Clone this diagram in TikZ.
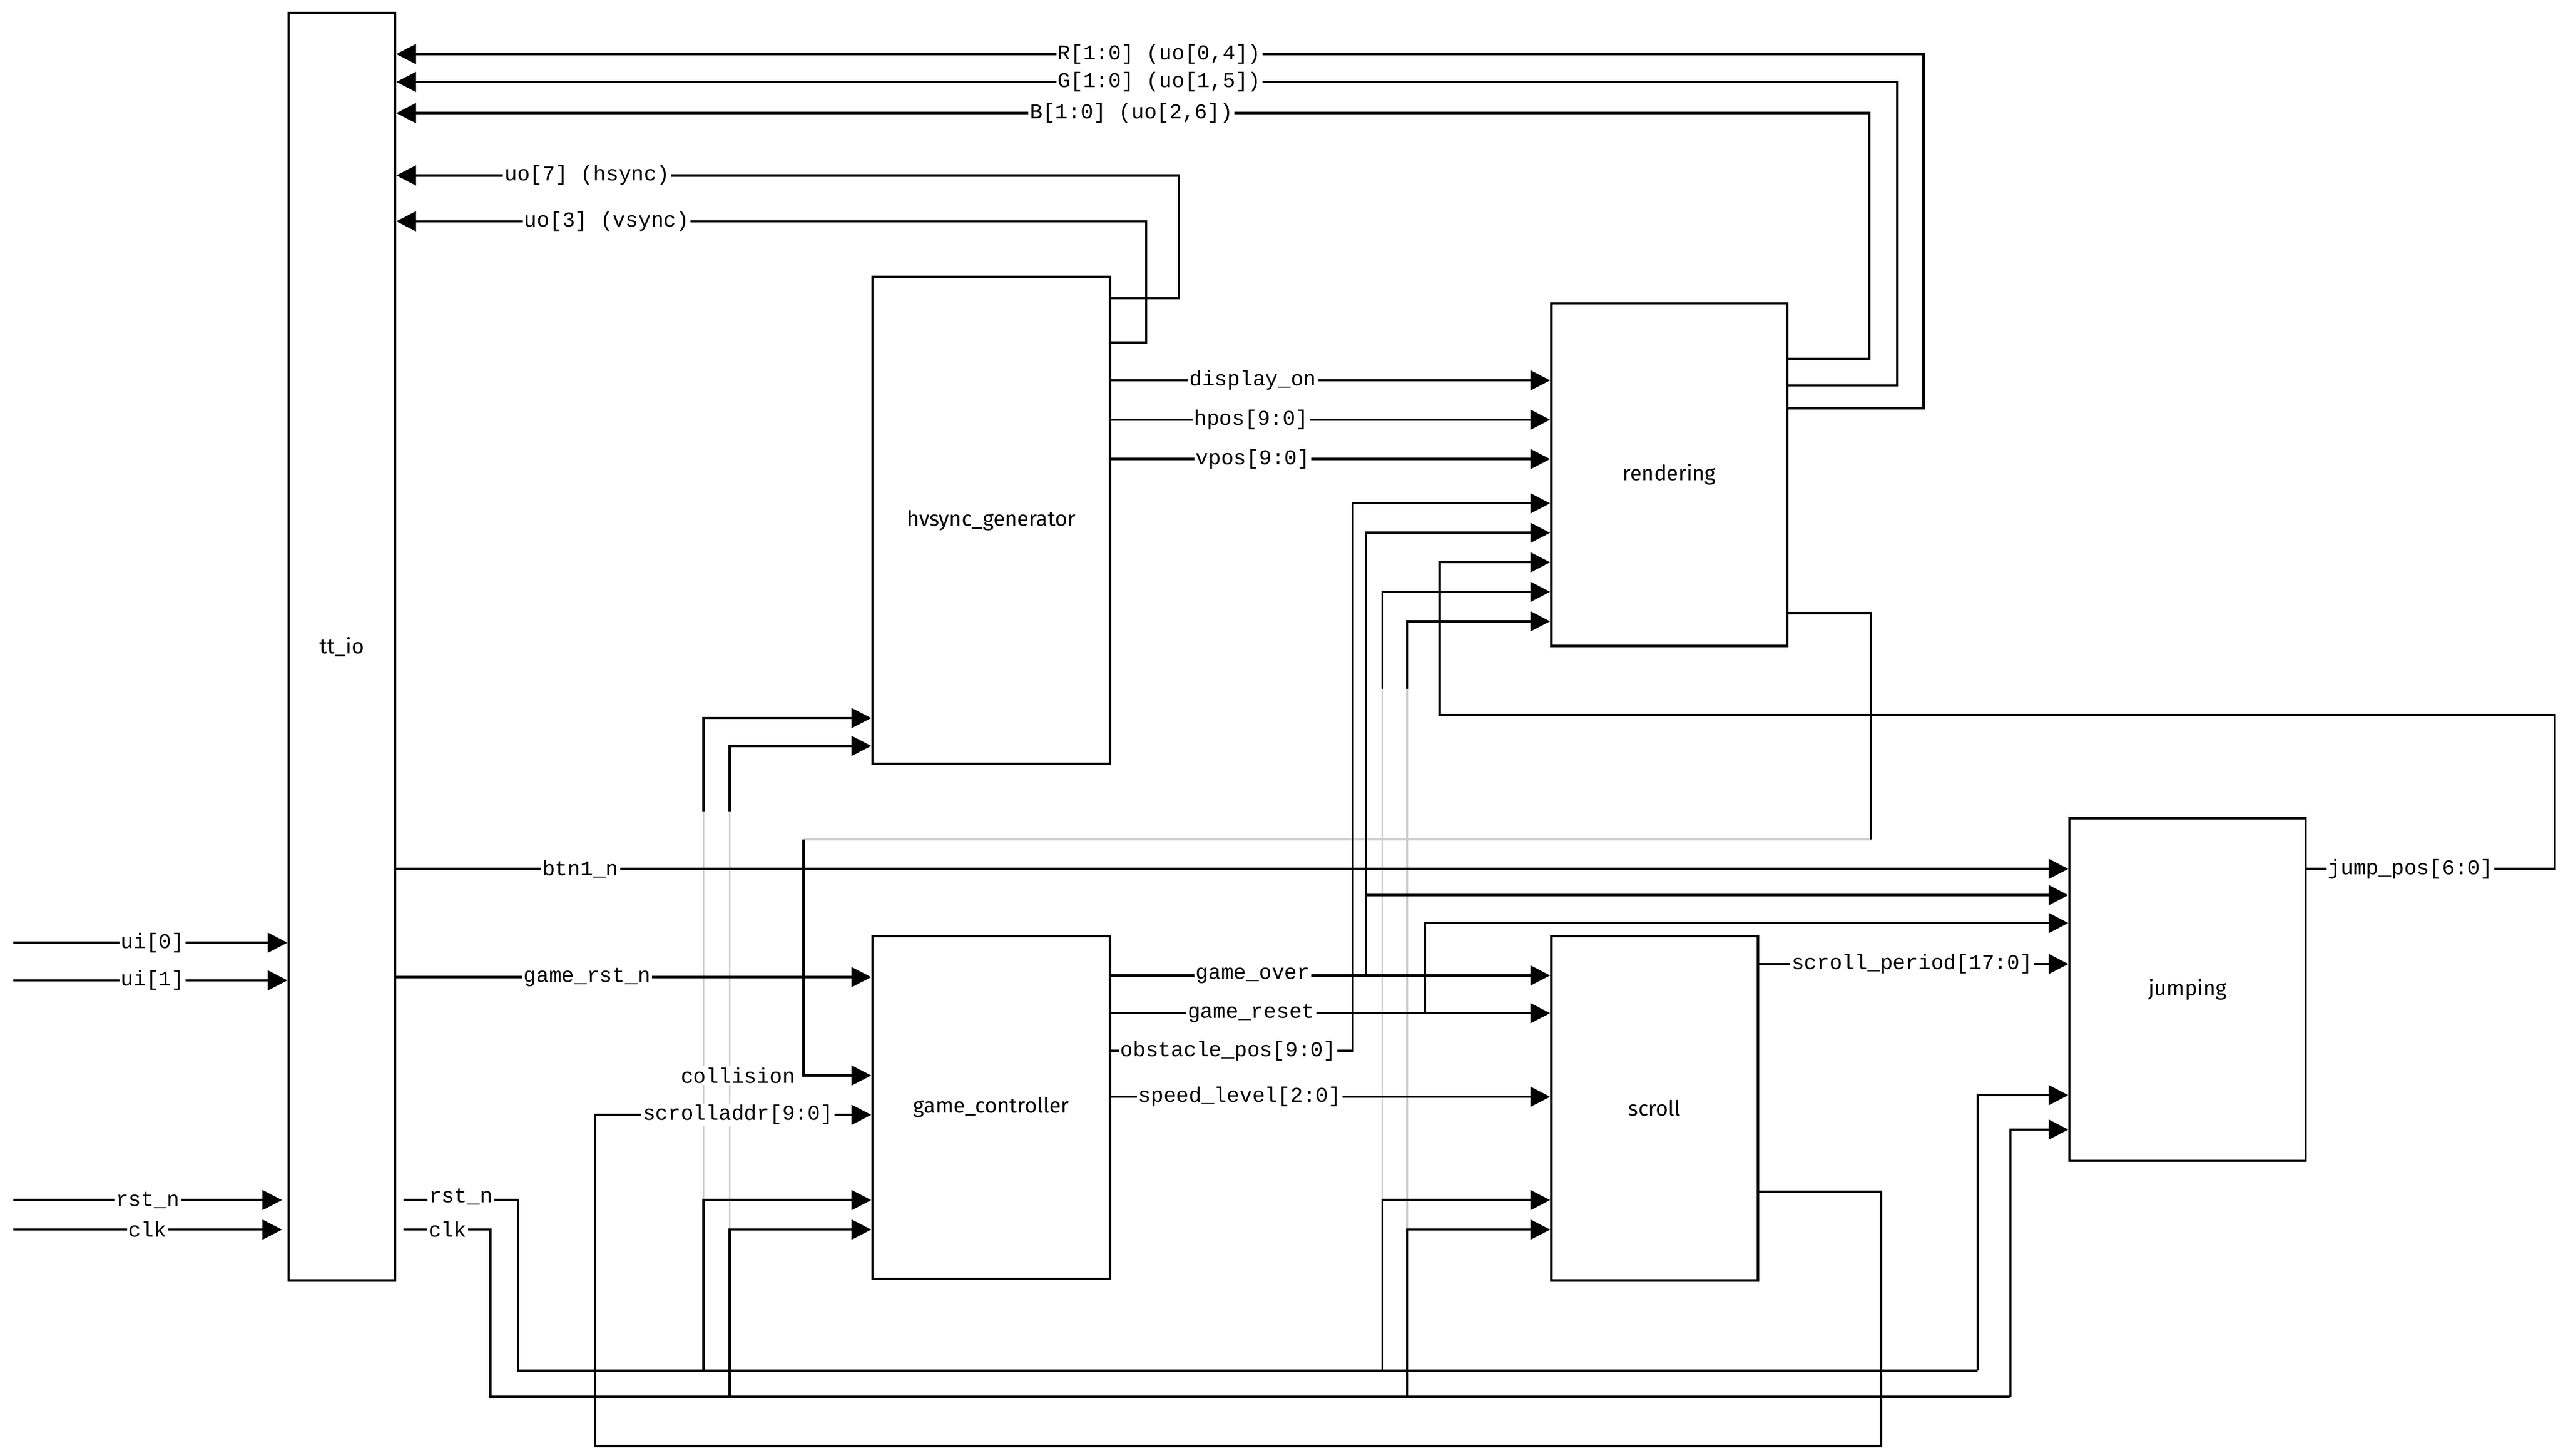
\documentclass[tikz,border=0pt]{standalone}
\usepackage{fontspec}
\setmainfont{Liberation Mono}
\newfontfamily\blockfont{Fira Sans}
\usetikzlibrary{arrows.meta}
\tikzset{
  blk/.style={draw, line width=1.2pt, inner sep=0pt, font=\blockfont\fontsize{11}{13}\selectfont},
  wire/.style={line width=1.2pt},
  sig/.style={wire, -{Triangle[length=3.6mm,width=3.6mm]}},
  faint/.style={line width=1pt, gray!40},
  lbl/.style={fill=white, inner sep=0.8pt, font=\fontsize{11}{13}\selectfont}
}
\begin{document}
\begin{tikzpicture}[x=0.3mm,y=-0.3mm]
\useasboundingbox (0,0) rectangle (1563,888);
% blocks
\node[blk, minimum width=19.5mm, minimum height=231.9mm] (io) at (208.5,394.5) {tt\_io};
\node[blk, minimum width=43.5mm, minimum height=89.1mm] (hv) at (604.5,317.5) {hvsync\_generator};
\node[blk, minimum width=43.2mm, minimum height=62.7mm] (ren) at (1018,289.5) {rendering};
\node[blk, minimum width=43.5mm, minimum height=62.7mm] (gc) at (604.5,675.5) {game\_controller};
\node[blk, minimum width=37.8mm, minimum height=63mm] (scr) at (1009,676) {scroll};
\node[blk, minimum width=43.2mm, minimum height=62.7mm] (jmp) at (1334,603.5) {jumping};

% faint crossings
\draw[faint] (429,495) -- (429,732);
\draw[faint] (445,495) -- (445,750);
\draw[faint] (843,420) -- (843,732);
\draw[faint] (858,420) -- (858,750);
\draw[faint] (1141,512) -- (490,512);

% colour outputs
\draw[sig] (ren.east |- 0,249) -- (1173,249) -- (1173,33) -- (io.east |- 0,33);
\draw[sig] (ren.east |- 0,235) -- (1157,235) -- (1157,50) -- (io.east |- 0,50);
\draw[sig] (ren.east |- 0,219) -- (1140,219) -- (1140,69) -- (io.east |- 0,69);
\node[lbl] at (707,33) {R[1:0] (uo[0,4])};
\node[lbl] at (707,50) {G[1:0] (uo[1,5])};
\node[lbl] at (690,69) {B[1:0] (uo[2,6])};

% sync
\draw[sig] (hv.east |- 0,182) -- (719,182) -- (719,107) -- (io.east |- 0,107);
\draw[sig] (hv.east |- 0,209) -- (699,209) -- (699,135) -- (io.east |- 0,135);
\node[lbl] at (358,107) {uo[7] (hsync)};
\node[lbl] at (370,135) {uo[3] (vsync)};

% hvsync to rendering
\draw[sig] (hv.east |- 0,232) -- (ren.west |- 0,232);
\draw[sig] (hv.east |- 0,256) -- (ren.west |- 0,256);
\draw[sig] (hv.east |- 0,280) -- (ren.west |- 0,280);
\node[lbl] at (764,232) {display\_on};
\node[lbl] at (763,256) {hpos[9:0]};
\node[lbl] at (764,280) {vpos[9:0]};

% top-level inputs
\coordinate (ui0) at (8,575);
\coordinate (ui1) at (8,598);
\coordinate (rin) at (8,732);
\coordinate (cin) at (8,750);
\draw[sig] (ui0) -- (io.west |- ui0);
\draw[sig] (ui1) -- (io.west |- ui1);
\draw[sig] (rin) -- (172,732);
\draw[sig] (cin) -- (172,750);
\node[lbl] at (93,575) {ui[0]};
\node[lbl] at (93,598) {ui[1]};
\node[lbl] at (90,732) {rst\_n};
\node[lbl] at (90,750) {clk};

% btn and game reset
\draw[sig] (io.east |- 0,530) -- (jmp.west |- 0,530);
\node[lbl] at (354,530) {btn1\_n};
\draw[sig] (io.east |- 0,596) -- (gc.west |- 0,596);
\node[lbl] at (358,596) {game\_rst\_n};

% rst_n and clk nets
\draw[wire] (246,732) -- (316,732) -- (316,836) -- (1206,836);
\draw[sig] (1206,836) -- (1206,668) -- (jmp.west |- 0,668);
\draw[wire] (246,750) -- (299,750) -- (299,852) -- (1226,852);
\draw[sig] (1226,852) -- (1226,689) -- (jmp.west |- 0,689);
\node[lbl] at (281,730) {rst\_n};
\node[lbl] at (273,750) {clk};
\draw[sig] (429,495) -- (429,438) -- (hv.west |- 0,438);
\draw[sig] (445,495) -- (445,455) -- (hv.west |- 0,455);
\draw[sig] (429,836) -- (429,732) -- (gc.west |- 0,732);
\draw[sig] (445,852) -- (445,750) -- (gc.west |- 0,750);
\draw[sig] (843,836) -- (843,732) -- (scr.west |- 0,732);
\draw[sig] (858,852) -- (858,750) -- (scr.west |- 0,750);
\draw[sig] (843,420) -- (843,361) -- (ren.west |- 0,361);
\draw[sig] (858,420) -- (858,379) -- (ren.west |- 0,379);

% game controller outputs
\draw[sig] (gc.east |- 0,595) -- (scr.west |- 0,595);
\draw[sig] (833,595) -- (833,325) -- (ren.west |- 0,325);
\draw[sig] (833,546) -- (jmp.west |- 0,546);
\draw[sig] (gc.east |- 0,618) -- (scr.west |- 0,618);
\draw[sig] (869,618) -- (869,563) -- (jmp.west |- 0,563);
\draw[sig] (gc.east |- 0,641) -- (825,641) -- (825,307) -- (ren.west |- 0,307);
\draw[sig] (gc.east |- 0,669) -- (scr.west |- 0,669);
\node[lbl] at (764,595) {game\_over};
\node[lbl] at (763,618) {game\_reset};
\node[lbl] at (749,641) {obstacle\_pos[9:0]};
\node[lbl] at (756,669) {speed\_level[2:0]};

% scroll period and jump pos
\draw[sig] (scr.east |- 0,588) -- (jmp.west |- 0,588);
\node[lbl] at (1166,588) {scroll\_period[17:0]};
\draw[sig] (jmp.east |- 0,530) -- (1558,530) -- (1558,436) -- (878,436) -- (878,343) -- (ren.west |- 0,343);
\node[lbl] at (1470,530) {jump\_pos[6:0]};

% collision and scrolladdr
\draw[wire] (ren.east |- 0,374) -- (1141,374) -- (1141,512);
\draw[sig] (490,512) -- (490,656) -- (gc.west |- 0,656);
\node[lbl] at (450,656) {collision};
\draw[sig] (scr.east |- 0,727) -- (1147,727) -- (1147,882) -- (363,882) -- (363,680) -- (gc.west |- 0,680);
\node[lbl] at (450,680) {scrolladdr[9:0]};
\end{tikzpicture}
\end{document}
